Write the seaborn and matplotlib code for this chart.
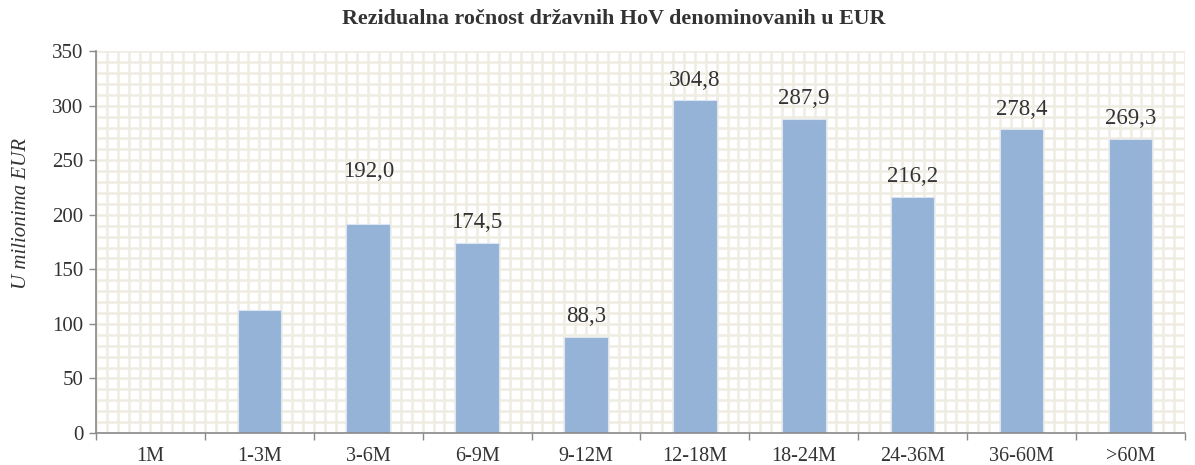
import seaborn as sns
import matplotlib.pyplot as plt
import pandas as pd
from matplotlib.ticker import MultipleLocator

categories = ["1M", "1-3M", "3-6M", "6-9M", "9-12M", "12-18M", "18-24M", "24-36M", "36-60M", ">60M"]
values = [0.0, 113.0, 192.0, 174.5, 88.3, 304.8, 287.9, 216.2, 278.4, 269.3]
shown = [False, False, True, True, True, True, True, True, True, True]

df = pd.DataFrame({"rok": categories, "iznos": values})

sns.set_style("white")
plt.rcParams["font.family"] = ["Liberation Serif", "DejaVu Serif"]

fig = plt.figure(figsize=(11.95, 4.65), dpi=100)
ax = fig.add_axes([0.0803, 0.0688, 0.9113, 0.8212])

sns.barplot(data=df, x="rok", y="iznos", color="#95B3D7", width=0.4,
            edgecolor="#DCE6F2", linewidth=0.8, saturation=1, ax=ax)

ax.set_xlim(-0.5, len(categories) - 0.5)
ax.set_ylim(0, 350)
ax.set_yticks(range(0, 351, 50))

# dense background grid
ax.xaxis.set_minor_locator(MultipleLocator(0.1))
ax.yaxis.set_minor_locator(MultipleLocator(10))
ax.grid(which="both", color="#EFECE1", linewidth=1.8)
ax.set_axisbelow(True)
ax.tick_params(axis="x", which="both", length=0, labelsize=14.5, colors="#333333", pad=10)
ax.tick_params(axis="y", which="minor", length=0)
ax.tick_params(axis="y", which="major", length=5, width=1, color="#898989",
               labelsize=15, labelcolor="#333333", left=True, pad=4)

# tick marks between categories
sec = ax.secondary_xaxis("bottom")
sec.set_xticks([i - 0.5 for i in range(len(categories) + 1)])
sec.set_xticklabels([])
sec.tick_params(length=5, width=1, color="#898989")
sec.spines["bottom"].set_visible(False)

for s in ["top", "right"]:
    ax.spines[s].set_visible(False)
for s in ["left", "bottom"]:
    ax.spines[s].set_color("#898989")
    ax.spines[s].set_linewidth(1.2)

# the 3-6M label sits higher in the original
raised = {"3-6M": 30}
for i, (c, v, show) in enumerate(zip(categories, values, shown)):
    if show:
        ax.annotate(f"{v:.1f}".replace(".", ","), (i, v), xytext=(0, raised.get(c, 7)),
                    textcoords="offset points", ha="center", va="bottom",
                    fontsize=16.5, color="#333333")

ax.set_xlabel("")
ax.set_ylabel("U milionima EUR", fontstyle="italic", fontsize=15, color="#333333")
ax.yaxis.set_label_coords(-0.0597, 0.576)
fig.text(614 / 1195, 1 - 19 / 465, "Rezidualna ročnost državnih HoV denominovanih u EUR",
         fontweight="bold", fontsize=15.8, color="#333333", ha="center", va="center")

fig.savefig("out.png", dpi=100)
